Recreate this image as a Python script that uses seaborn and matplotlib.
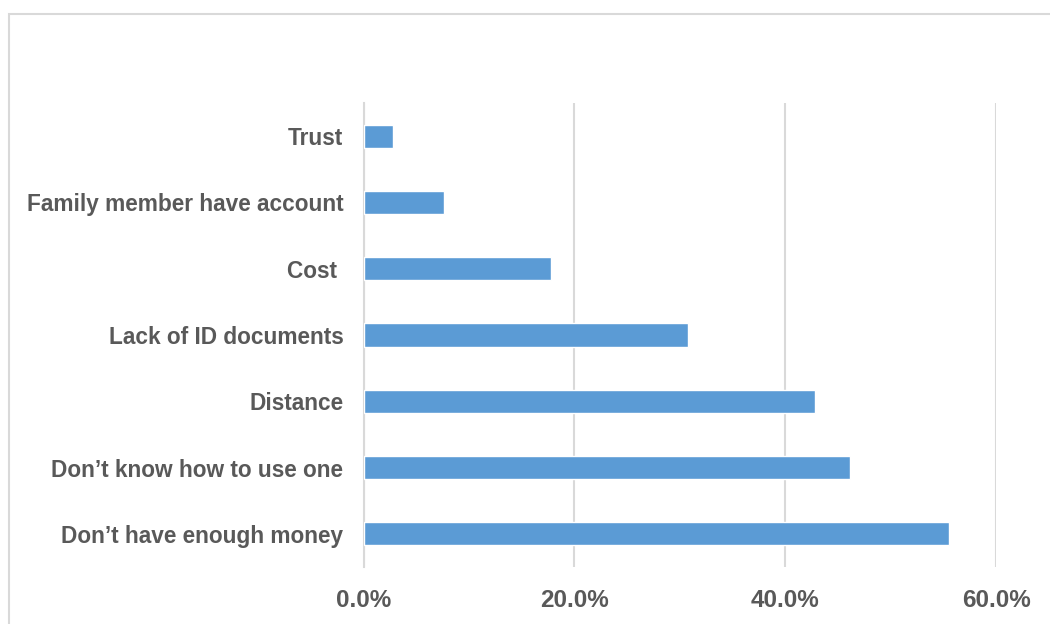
import matplotlib
matplotlib.use("Agg")
import matplotlib.pyplot as plt
from matplotlib.patches import Rectangle
from matplotlib.ticker import FuncFormatter
import seaborn as sns
import pandas as pd

# Reasons for not having an account (share of respondents)
reasons = [
    "Trust",
    "Family member have account",
    "Cost ",
    "Lack of ID documents",
    "Distance",
    "Don\u2019t know how to use one",
    "Don\u2019t have enough money",
]
shares = [0.028, 0.076, 0.178, 0.308, 0.428, 0.461, 0.555]
x_ticks = [0.0, 0.2, 0.4, 0.6]

df = pd.DataFrame({"reason": reasons, "share": shares})

sns.set_theme(style="white")
plt.rcParams["font.family"] = ["Liberation Sans", "DejaVu Sans"]

text_color = "#595959"
grid_color = "#D9D9D9"
bar_color = "#5B9BD5"

fig = plt.figure(figsize=(10.5, 6.24), dpi=100)
ax = fig.add_axes([0.3463, 0.0913, 0.6023, 0.7436])

sns.barplot(data=df, x="share", y="reason", orient="h", color=bar_color,
            width=0.35, saturation=1, ax=ax, zorder=3)

ax.set_xlim(0, 0.6)
ax.set_xticks(x_ticks)
ax.xaxis.set_major_formatter(FuncFormatter(lambda v, _: f"{v * 100:.1f}%"))
ax.grid(axis="x", color=grid_color, linewidth=1.5, zorder=0)
ax.grid(axis="y", visible=False)
ax.set_xlabel("")
ax.set_ylabel("")

for side in ["top", "right", "bottom"]:
    ax.spines[side].set_visible(False)
ax.spines["left"].set_color(grid_color)
ax.spines["left"].set_linewidth(1.5)

ax.tick_params(axis="x", length=0, pad=16, labelsize=17.5, labelcolor=text_color)
ax.tick_params(axis="y", length=0, pad=14.5, labelsize=16.3, labelcolor=text_color)
for lbl in ax.get_xticklabels() + ax.get_yticklabels():
    lbl.set_fontweight("bold")

# Outer chart frame
fig.patches.append(Rectangle((9 / 1050, -0.05), 1.1, 1 - 14 / 624 + 0.05,
                             transform=fig.transFigure, fill=False,
                             edgecolor=grid_color, linewidth=1.5))

fig.savefig("out.png", dpi=100, facecolor="white")
